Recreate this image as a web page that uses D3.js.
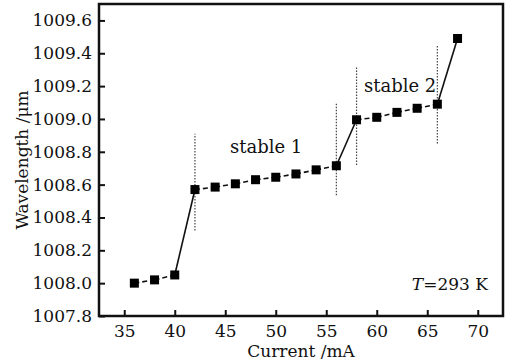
<!DOCTYPE html>
<html>
<head>
<meta charset="utf-8">
<script src="https://cdn.jsdelivr.net/npm/d3@7"></script>
<style>
  body { margin: 0; background: #fff; }
  svg text { font-family: "DejaVu Serif", serif; fill: #111; }
</style>
</head>
<body>
<div id="chart"></div>
<script>
// measured points
const current = [36, 38, 40, 42, 44, 46, 48, 50, 52, 54, 56, 58, 60, 62, 64, 66, 68];
const wavelength = [1008.00, 1008.02, 1008.05, 1008.57, 1008.585, 1008.605, 1008.63, 1008.645,
  1008.665, 1008.69, 1008.715, 1008.995, 1009.01, 1009.04, 1009.065, 1009.09, 1009.49];
// currents where the mode hops (solid segment starts here)
const hopFrom = [40, 56, 66];
// dotted guides: current, lower and upper wavelength
const guideX = [42, 56, 58, 66];
const guideLo = [1008.32, 1008.535, 1008.72, 1008.85];
const guideHi = [1008.91, 1009.10, 1009.315, 1009.45];
const xTicks = [35, 40, 45, 50, 55, 60, 65, 70];
const yTicks = [1007.8, 1008.0, 1008.2, 1008.4, 1008.6, 1008.8, 1009.0, 1009.2, 1009.4, 1009.6];

const width = 513, height = 362;
const margin = {top: 4, right: 10, bottom: 46, left: 99};
const w = width - margin.left - margin.right;
const h = height - margin.top - margin.bottom;

const svg = d3.select("#chart").append("svg")
  .attr("width", width)
  .attr("height", height);

const g = svg.append("g")
  .attr("transform", `translate(${margin.left},${margin.top})`);

const x = d3.scaleLinear().domain([32.5, 72.5]).range([0, w]);
const y = d3.scaleLinear().domain([1007.8, 1009.7]).range([h, 0]);

const xAxis = g.append("g")
  .attr("transform", `translate(0,${h})`)
  .call(d3.axisBottom(x).tickValues(xTicks).tickSize(-6).tickPadding(9).tickFormat(d3.format("d")));

const yAxis = g.append("g")
  .call(d3.axisLeft(y).tickValues(yTicks).tickSize(-6).tickPadding(7).tickFormat(d3.format(".1f")));

[xAxis, yAxis].forEach((a) => {
  a.attr("font-family", null);
  a.select(".domain").remove();
  a.selectAll(".tick line").attr("stroke", "#111").attr("stroke-width", 2);
  a.selectAll(".tick text")
    .style("font-size", "17px")
    .attr("fill", "#111");
});

// frame
g.append("rect")
  .attr("x", 0).attr("y", 0)
  .attr("width", w).attr("height", h)
  .attr("fill", "none")
  .attr("stroke", "#111")
  .attr("stroke-width", 2.5);

// dotted guides
g.selectAll(".guide")
  .data(guideX)
  .enter()
  .append("line")
  .attr("class", "guide")
  .attr("x1", (d) => x(d))
  .attr("x2", (d) => x(d))
  .attr("y1", (d, i) => y(guideLo[i]))
  .attr("y2", (d, i) => y(guideHi[i]))
  .attr("stroke", "#444")
  .attr("stroke-width", 1.2)
  .attr("stroke-dasharray", "1.5,1.5");

// segments between neighbours
const segs = [];
for (let i = 0; i < current.length - 1; i++) {
  segs.push({
    x1: current[i], y1: wavelength[i],
    x2: current[i + 1], y2: wavelength[i + 1],
    hop: hopFrom.indexOf(current[i]) >= 0,
  });
}

g.selectAll(".seg")
  .data(segs)
  .enter()
  .append("line")
  .attr("class", "seg")
  .attr("x1", (d) => x(d.x1))
  .attr("y1", (d) => y(d.y1))
  .attr("x2", (d) => x(d.x2))
  .attr("y2", (d) => y(d.y2))
  .attr("stroke", "#111")
  .attr("stroke-width", 1.6)
  .attr("stroke-dasharray", (d) => d.hop ? null : "5,3");

const s = 9;
g.selectAll(".pt")
  .data(current)
  .enter()
  .append("rect")
  .attr("class", "pt")
  .attr("x", (d) => x(d) - s / 2)
  .attr("y", (d, i) => y(wavelength[i]) - s / 2)
  .attr("width", s)
  .attr("height", s)
  .attr("fill", "#000");

// annotations
g.append("text")
  .attr("x", 131).attr("y", 149)
  .style("font-size", "18px")
  .text("stable 1");

g.append("text")
  .attr("x", 265).attr("y", 88)
  .style("font-size", "18px")
  .text("stable 2");

const tLabel = g.append("text")
  .attr("x", w - 15).attr("y", 286)
  .attr("text-anchor", "end")
  .style("font-size", "17px");
tLabel.append("tspan").style("font-style", "italic").text("T");
tLabel.append("tspan").text("=293 K");

// axis titles
svg.append("text")
  .attr("x", margin.left + w / 2)
  .attr("y", 357)
  .attr("text-anchor", "middle")
  .style("font-size", "17px")
  .text("Current /mA");

svg.append("text")
  .attr("transform", `translate(28,${margin.top + h / 2}) rotate(-90)`)
  .attr("text-anchor", "middle")
  .style("font-size", "17px")
  .text("Wavelength /μm");
</script>
</body>
</html>
